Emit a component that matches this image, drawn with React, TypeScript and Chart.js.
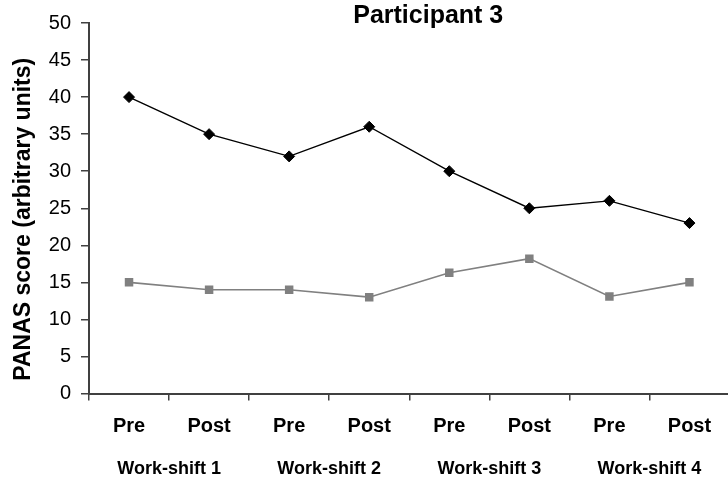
import React, { useEffect, useRef } from "react";
import { Chart, registerables } from "chart.js";

Chart.register(...registerables);

const categories = ["Pre", "Post", "Pre", "Post", "Pre", "Post", "Pre", "Post"];
const groupLabels = ["Work-shift 1", "Work-shift 2", "Work-shift 3", "Work-shift 4"];
const seriesBlack = [40, 35, 32, 36, 30, 25, 26, 23];
const seriesGray = [15, 14, 14, 13, 16.3, 18.2, 13.1, 15];
const chartTitle = "Participant 3";
const yAxisTitle = "PANAS score (arbitrary units)";

const FONT = '"Liberation Sans", Arial, sans-serif';
const AXIS_COLOR = "#404040";

const extraText = {
  id: "extraText",
  afterDraw(chart: any) {
    const { ctx, chartArea } = chart;
    const xs = chart.scales.x;
    ctx.save();
    ctx.fillStyle = "#000";
    ctx.textAlign = "center";
    ctx.textBaseline = "middle";
    // title
    ctx.font = `bold 25px ${FONT}`;
    ctx.fillText(chartTitle, (chartArea.left + chartArea.right) / 2 + 19, 16);
    // group labels
    ctx.font = `bold 18px ${FONT}`;
    groupLabels.forEach((g, k) => {
      const x = (xs.getPixelForValue(2 * k) + xs.getPixelForValue(2 * k + 1)) / 2;
      ctx.fillText(g, x, 469);
    });
    // y axis title
    ctx.font = `bold 23px ${FONT}`;
    ctx.translate(24, (chartArea.top + chartArea.bottom) / 2 + 11);
    ctx.rotate(-Math.PI / 2);
    ctx.fillText(yAxisTitle, 0, 0);
    ctx.restore();
  },
};

export default function App() {
  const ref = useRef<HTMLCanvasElement>(null);
  useEffect(() => {
    if (!ref.current) return;
    const chart = new Chart(ref.current, {
      type: "line",
      data: {
        labels: categories,
        datasets: [
          {
            data: seriesBlack,
            borderColor: "#000",
            backgroundColor: "#000",
            borderWidth: 1.4,
            pointStyle: "rectRot",
            pointRadius: 5.5,
            pointBorderWidth: 1,
            pointBackgroundColor: "#000",
            pointBorderColor: "#000",
            tension: 0,
          },
          {
            data: seriesGray,
            borderColor: "#808080",
            backgroundColor: "#808080",
            borderWidth: 1.6,
            pointStyle: "rect",
            pointRadius: 6,
            pointBorderWidth: 0,
            pointBackgroundColor: "#808080",
            pointBorderColor: "#808080",
            tension: 0,
          },
        ],
      },
      options: {
        animation: false,
        responsive: false,
        layout: { padding: { top: 23, right: 2, left: 0, bottom: 0 } },
        plugins: {
          legend: { display: false },
          title: { display: false },
          tooltip: { enabled: false },
        },
        scales: {
          x: {
            type: "category",
            offset: true,
            afterFit(scale: any) {
              scale.height = 88.5;
            },
            grid: {
              offset: true,
              drawOnChartArea: false,
              drawTicks: true,
              tickLength: 7,
              color: AXIS_COLOR,
              lineWidth: 1.5,
            },
            border: { display: true, color: AXIS_COLOR, width: 2 },
            ticks: {
              autoSkip: false,
              maxRotation: 0,
              padding: 14,
              color: "#000",
              font: { family: FONT, size: 20, weight: "bold" },
            },
          },
          y: {
            min: 0,
            max: 50,
            afterFit(scale: any) {
              scale.width = 89;
            },
            grid: {
              drawOnChartArea: false,
              drawTicks: true,
              tickLength: 8,
              color: AXIS_COLOR,
              lineWidth: 1.5,
            },
            border: { display: true, color: AXIS_COLOR, width: 2 },
            ticks: {
              stepSize: 5,
              padding: 10,
              color: "#000",
              font: { family: FONT, size: 20 },
            },
          },
        },
      },
      plugins: [extraText],
    });
    return () => chart.destroy();
  }, []);
  return (
    <div style={{ position: "fixed", left: 0, top: 0, width: 728, height: 482, overflow: "hidden", background: "#fff" }}>
      <canvas ref={ref} width={736} height={482} style={{ display: "block" }} />
    </div>
  );
}
